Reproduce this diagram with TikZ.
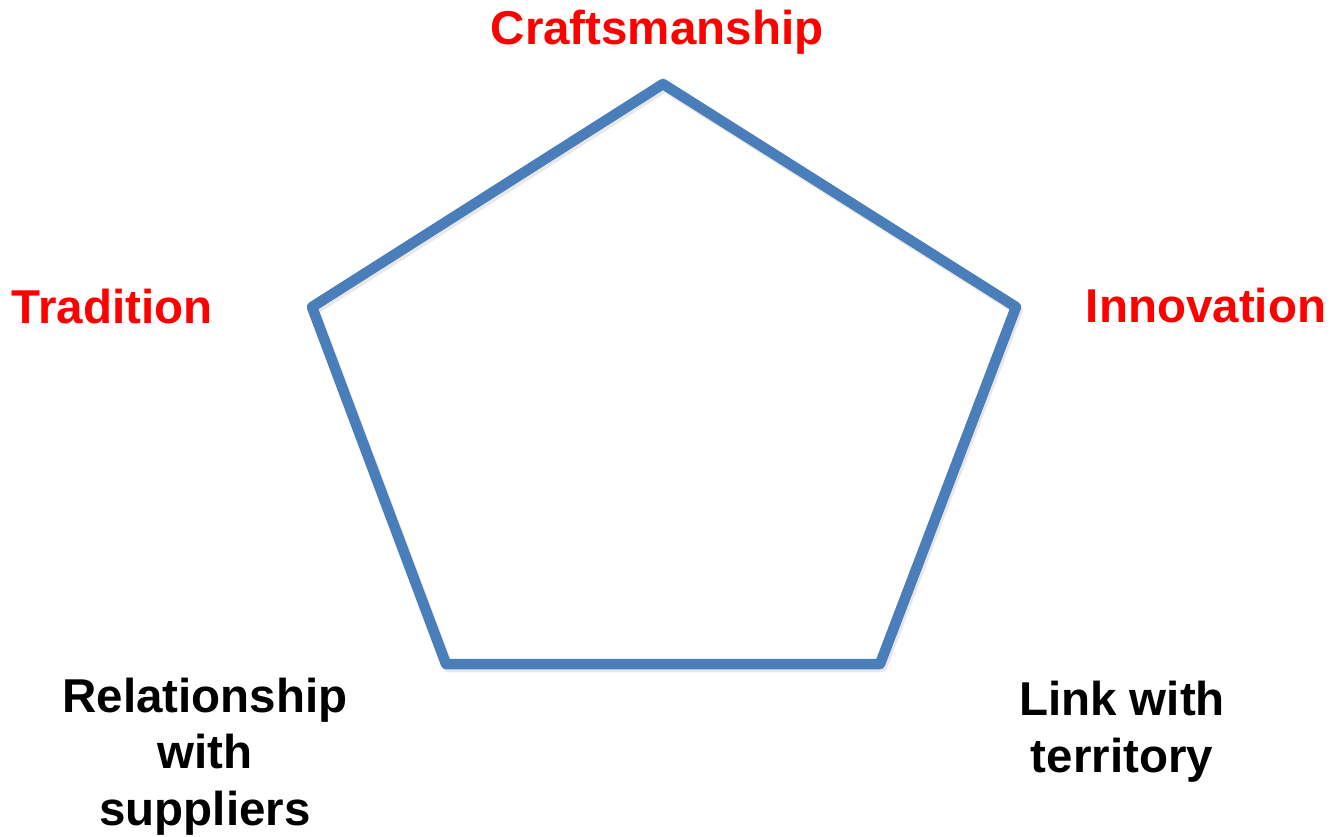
\documentclass[tikz,border=0pt]{standalone}
\usepackage{fontspec}
\setmainfont{Liberation Sans}
\definecolor{penta}{HTML}{4A7EBB}
\definecolor{lab}{HTML}{FF0000}
\tikzset{
  lbl/.style={font=\bfseries\fontsize{47.5}{56.5}\selectfont, inner sep=0pt, anchor=base, align=center},
  redlbl/.style={lbl, text=lab},
  blacklbl/.style={lbl, text=black},
  edge/.style={draw=penta, line width=10.5pt, line join=round},
  shade/.style={draw=black!18, line width=10.5pt, line join=round},
}
\begin{document}
\begin{tikzpicture}[x=1pt,y=-1pt]
\useasboundingbox (0,0) rectangle (1334,836);
\coordinate (t) at (663,84);
\coordinate (r) at (1016,307);
\coordinate (br) at (880,664);
\coordinate (bl) at (446,664);
\coordinate (l) at (312,307);
\draw[shade, opacity=0.5] ([shift={(2,3)}]t) -- ([shift={(2,3)}]r) -- ([shift={(2,3)}]br) -- ([shift={(2,3)}]bl) -- ([shift={(2,3)}]l) -- cycle;
\draw[edge] (t) -- (r) -- (br) -- (bl) -- (l) -- cycle;
\node[redlbl] (craft) at (657,44) {Craftsmanship};
\node[redlbl] (trad) at (112,323) {Tradition};
\node[redlbl] (innov) at (1206,322) {Innovation};
\node[blacklbl] (rel) at (205,825) {Relationship\\with\\suppliers};
\node[blacklbl] (link) at (1122,772) {Link with\\territory};
\end{tikzpicture}
\end{document}
